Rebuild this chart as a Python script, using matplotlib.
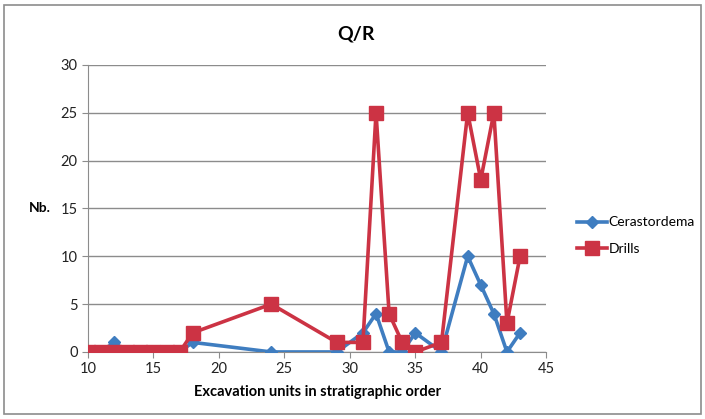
import matplotlib
matplotlib.use("Agg")
import matplotlib.pyplot as plt
from matplotlib.patches import Rectangle

plt.rcParams['font.family'] = ['Lato', 'DejaVu Sans']

units_cer = [10, 11, 12, 13, 14, 15, 16, 17, 18, 24, 29, 31, 32, 33, 34, 35, 37, 39, 40, 41, 42, 43]
cerastoderma = [0, 0, 1, 0, 0, 0, 0, 0, 1, 0, 0, 2, 4, 0, 0, 2, 0, 10, 7, 4, 0, 2]
units_drl = [10, 11, 12, 13, 14, 15, 16, 17, 18, 24, 29, 31, 32, 33, 34, 35, 37, 39, 40, 41, 42, 43]
drills = [0, 0, 0, 0, 0, 0, 0, 0, 2, 5, 1, 1, 25, 4, 1, 0, 1, 25, 18, 25, 3, 10]

fig = plt.figure(figsize=(7.05, 4.19), dpi=100)
ax = fig.add_axes([0.1248, 0.16, 0.65, 0.685])

blue = '#3F7DC0'
red = '#CC3344'
ax.plot(units_cer, cerastoderma, color=blue, lw=2.6, marker='D', ms=6,
        mec=blue, mfc=blue, label='Cerastordema', zorder=3)
ax.plot(units_drl, drills, color=red, lw=2.6, marker='s', ms=10.5,
        mec=red, mfc=red, label='Drills', zorder=4)

ax.set_xlim(10, 45)
ax.set_ylim(0, 30)
ax.set_xticks(range(10, 46, 5))
ax.set_yticks(range(0, 31, 5))
ax.yaxis.grid(True, color='#8c8c8c', lw=1.0)
ax.set_axisbelow(True)
for s in ['top', 'right']:
    ax.spines[s].set_visible(False)
for s in ['left', 'bottom']:
    ax.spines[s].set_color('#8c8c8c')
ax.tick_params(axis='both', colors='#8c8c8c', labelcolor='#222222', labelsize=10.5, length=4)
ax.set_xlabel('Excavation units in stratigraphic order', fontsize=10.5, fontweight='bold', labelpad=6)
fig.text(0.057, 0.503, 'Nb.', fontsize=10, fontweight='bold', ha='center', va='center')
fig.text(0.505, 0.92, 'Q/R', fontsize=14, fontweight='bold', ha='center', va='center')

ax.legend(loc='center left', bbox_to_anchor=(1.0, 0.405), frameon=False, fontsize=10,
          handlelength=2.2, handletextpad=0.1, labelspacing=1.05, borderaxespad=1.8)

fig.patches.append(Rectangle((0.006, 0.012), 0.988, 0.976, transform=fig.transFigure,
                             fill=False, edgecolor='#8c8c8c', lw=1.2))

fig.savefig('out.png', dpi=100)
